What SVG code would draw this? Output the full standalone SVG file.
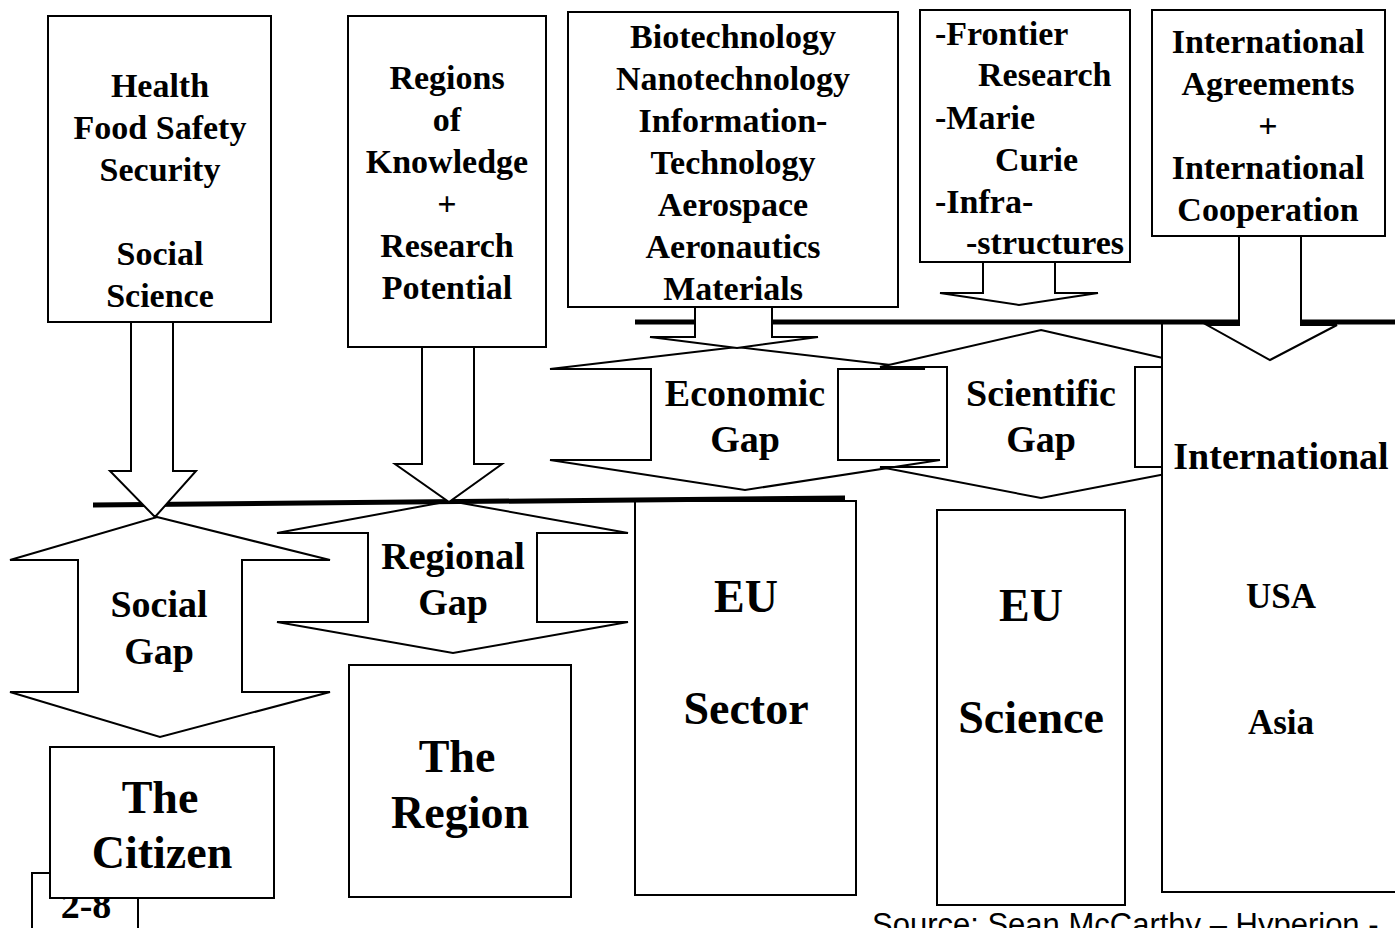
<svg xmlns="http://www.w3.org/2000/svg" width="1395" height="928" viewBox="0 0 1395 928">
<style>
.box{fill:#fff;stroke:#000;stroke-width:2}
.shape{fill:#fff;stroke:#000;stroke-width:2;stroke-linejoin:miter}
.thick{stroke:#000;stroke-width:5;fill:none}
.t{font-family:"Liberation Serif","Times New Roman",serif;font-weight:bold;fill:#000}
.s34{font-size:34px;text-anchor:middle}
.l34{font-size:34px;text-anchor:start}
.s38{font-size:38px;text-anchor:middle}
.s35{font-size:35px;text-anchor:middle}
.s46{font-size:46px;text-anchor:middle}
.src{font-family:"Liberation Sans",Arial,sans-serif;font-size:31px;fill:#000}
</style>
<rect width="1395" height="928" fill="#fff"/>

<g id="box-health">
<rect class="box" x="48" y="16" width="223" height="306"/>
<text class="t s34" x="160" y="97">Health</text>
<text class="t s34" x="160" y="139">Food Safety</text>
<text class="t s34" x="160" y="181">Security</text>
<text class="t s34" x="160" y="265">Social</text>
<text class="t s34" x="160" y="307">Science</text>
</g>

<g id="box-regions">
<rect class="box" x="348" y="16" width="198" height="331"/>
<text class="t s34" x="447" y="89">Regions</text>
<text class="t s34" x="447" y="131">of</text>
<text class="t s34" x="447" y="173">Knowledge</text>
<text class="t s34" x="447" y="215">+</text>
<text class="t s34" x="447" y="257">Research</text>
<text class="t s34" x="447" y="299">Potential</text>
</g>

<g id="box-tech">
<rect class="box" x="568" y="12" width="330" height="295"/>
<text class="t s34" x="733" y="48">Biotechnology</text>
<text class="t s34" x="733" y="90">Nanotechnology</text>
<text class="t s34" x="733" y="132">Information-</text>
<text class="t s34" x="733" y="174">Technology</text>
<text class="t s34" x="733" y="216">Aerospace</text>
<text class="t s34" x="733" y="258">Aeronautics</text>
<text class="t s34" x="733" y="300">Materials</text>
</g>

<g id="box-frontier">
<rect class="box" x="920" y="10" width="210" height="252"/>
<text class="t l34" x="935" y="45">-Frontier</text>
<text class="t l34" x="978" y="86">Research</text>
<text class="t l34" x="935" y="129">-Marie</text>
<text class="t l34" x="995" y="171">Curie</text>
<text class="t l34" x="935" y="213">-Infra-</text>
<text class="t l34" x="966" y="254">-structures</text>
</g>

<g id="box-international-agreements">
<rect class="box" x="1152" y="10" width="233" height="226"/>
<text class="t s34" x="1268" y="53">International</text>
<text class="t s34" x="1268" y="95">Agreements</text>
<text class="t s34" x="1268" y="137">+</text>
<text class="t s34" x="1268" y="179">International</text>
<text class="t s34" x="1268" y="221">Cooperation</text>
</g>

<g id="gap-social">
<polygon class="shape" points="157,517 330,560 242,560 242,692 330,692 160,737 10,692 78,692 78,560 10,560"/>
<text class="t s38" x="159" y="617">Social</text>
<text class="t s38" x="159" y="664">Gap</text>
</g>

<g id="gap-regional">
<polygon class="shape" points="450,501 628,533 537,533 537,622 628,622 453,653 277,622 368,622 368,533 277,533"/>
<text class="t s38" x="453" y="569">Regional</text>
<text class="t s38" x="453" y="615">Gap</text>
</g>

<g id="gap-economic">
<polygon class="shape" points="737,347 925,369 838,369 838,460 940,460 745,490 550,460 651,460 651,369 550,369"/>
<text class="t s38" x="745" y="406">Economic</text>
<text class="t s38" x="745" y="452">Gap</text>
</g>

<g id="gap-scientific">
<polygon class="shape" points="1041,330 1202,367 1135,367 1135,467 1202,467 1041,498 880,467 947,467 947,367 880,367"/>
<text class="t s38" x="1041" y="406">Scientific</text>
<text class="t s38" x="1041" y="452">Gap</text>
</g>

<g id="box-2-8">
<rect class="box" x="32" y="873" width="106" height="80"/>
<text class="t s38" x="86" y="918">2-8</text>
</g>

<g id="box-citizen">
<rect class="box" x="50" y="747" width="224" height="151"/>
<text class="t s46" x="160" y="813">The</text>
<text class="t s46" x="162" y="868">Citizen</text>
</g>

<g id="box-region">
<rect class="box" x="349" y="665" width="222" height="232"/>
<text class="t s46" x="457" y="772">The</text>
<text class="t s46" x="460" y="828">Region</text>
</g>

<g id="box-eu-sector">
<rect class="box" x="635" y="501" width="221" height="394"/>
<text class="t s46" x="746" y="612">EU</text>
<text class="t s46" x="746" y="724">Sector</text>
</g>

<g id="box-eu-science">
<rect class="box" x="937" y="510" width="188" height="395"/>
<text class="t s46" x="1031" y="621">EU</text>
<text class="t s46" x="1031" y="733">Science</text>
</g>

<g id="box-international">
<rect class="box" x="1162" y="322" width="250" height="570"/>
<text class="t s38" x="1281" y="469">International</text>
<text class="t s35" x="1281" y="608">USA</text>
<text class="t s35" x="1281" y="734">Asia</text>
</g>

<g id="connectors">
<line class="thick" x1="93" y1="505" x2="845" y2="498"/>
<line class="thick" x1="635" y1="322" x2="1395" y2="322"/>
<polygon class="shape" points="131,322 131,471 110,471 155,517 196,471 173,471 173,322"/>
<polygon class="shape" points="422,347 422,464 395,464 449,502 502,464 474,464 474,347"/>
<polygon class="shape" points="695,307 695,337 650,337 737,348 818,337 772,337 772,307"/>
<polygon class="shape" points="983,262 983,293 940,293 1019,305 1098,293 1055,293 1055,262"/>
<polygon class="shape" points="1239,236 1239,325 1207,325 1270,360 1337,325 1301,325 1301,236"/>
</g>

<text class="src" x="872" y="935">Source: Sean McCarthy – Hyperion -</text>
</svg>
